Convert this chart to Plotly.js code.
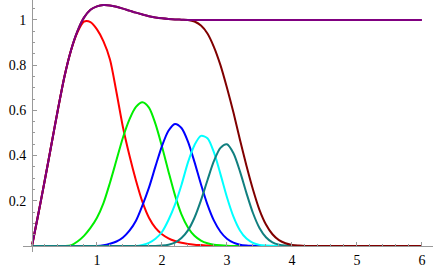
<!DOCTYPE html>
<html>
<head>
<meta charset="utf-8">
<script src="https://cdn.plot.ly/plotly-3.0.1.min.js"></script>
<style>
html,body{margin:0;padding:0;background:#fff;}
#chart{width:437px;height:270px;}
#chart .xtick text, #chart .ytick text { font-family: "Liberation Serif", "Times New Roman", serif !important; }
</style>
</head>
<body>
<div id="chart"></div>
<script>
// shared x samples
var xs = [0,0.1,0.2,0.3,0.4,0.5,0.6,0.7,0.8,0.9,1.0,1.1,1.2,1.3,1.4,1.5,1.6,1.7,1.8,1.9,2.0,
          2.1,2.2,2.3,2.4,2.5,2.6,2.7,2.8,2.9,3.0,3.1,3.2,3.3,3.4,3.5,3.6,3.7,3.8,3.9,4.0,4.1,4.2,5,6];

var red    = [0,0.145,0.295,0.45,0.605,0.75,0.865,0.945,0.992,0.99,0.958,0.905,0.825,0.68,0.525,0.40,0.29,0.195,0.125,0.08,0.052,
              0.034,0.022,0.014,0.009,0.006,0.004,0.002,0.001,0,0,0,0,0,0,0,0,0,0,0,0,0,0,0,0];
var green  = [0,0,0,0,0,0,0.003,0.02,0.045,0.08,0.125,0.19,0.28,0.38,0.48,0.56,0.615,0.636,0.612,0.54,0.44,
              0.33,0.225,0.14,0.082,0.045,0.024,0.012,0.006,0.003,0.001,0,0,0,0,0,0,0,0,0,0,0,0,0,0];
var blue   = [0,0,0,0,0,0,0,0,0,0,0,0.003,0.01,0.02,0.038,0.068,0.112,0.18,0.258,0.352,0.442,
              0.51,0.54,0.522,0.462,0.372,0.273,0.183,0.112,0.063,0.032,0.015,0.006,0.0025,0.001,0,0,0,0,0,0,0,0,0,0];
var cyan   = [0,0,0,0,0,0,0,0,0,0,0,0,0,0,0,0,0,0.005,0.014,0.032,0.062,
              0.115,0.183,0.27,0.37,0.446,0.487,0.477,0.414,0.318,0.216,0.13,0.069,0.033,0.014,0.005,0.002,0.001,0,0,0,0,0,0,0];
var teal   = [0,0,0,0,0,0,0,0,0,0,0,0,0,0,0,0,0,0,0,0,0.002,
              0.006,0.015,0.035,0.069,0.125,0.202,0.291,0.376,0.434,0.45,0.41,0.33,0.234,0.146,0.08,0.039,0.016,0.006,0.002,0.001,0,0,0,0];
var maroon = [0,0.145,0.295,0.45,0.605,0.75,0.865,0.95,1.01,1.045,1.06,1.066,1.064,1.058,1.05,1.041,1.032,1.024,1.016,1.011,1.007,
              1.004,1.002,1.001,1.0,0.993,0.975,0.94,0.88,0.80,0.70,0.59,0.47,0.355,0.25,0.16,0.095,0.052,0.026,0.012,0.005,0.002,0,0,0];
var purple = [0,0.145,0.295,0.45,0.605,0.75,0.865,0.95,1.01,1.045,1.06,1.066,1.064,1.058,1.05,1.041,1.032,1.024,1.016,1.011,1.007,
              1.004,1.002,1.001,1.0,1.0,1.0,1.0,1.0,1.0,1.0,1.0,1.0,1.0,1.0,1.0,1.0,1.0,1.0,1.0,1.0,1.0,1.0,1.0,1.0];

var xTickVals = [1,2,3,4,5,6];
var xTickText = ['1','2','3','4','5','6'];
var yTickVals = [0,0.2,0.4,0.6,0.8,1.0];
var yTickText = ['','0.2','0.4','0.6','0.8','1'];

var series = [
  {y: red,    color: '#ff0000'},
  {y: green,  color: '#00ee00'},
  {y: blue,   color: '#0000ff'},
  {y: cyan,   color: '#00ffff'},
  {y: teal,   color: '#117f7f'},
  {y: maroon, color: '#800000'},
  {y: purple, color: '#800080'}
];

var traces = series.map(function(s){
  return {x: xs, y: s.y, type: 'scatter', mode: 'lines',
          line: {color: s.color, width: 2, shape: 'spline', smoothing: 0.8},
          hoverinfo: 'skip'};
});

var xr = [-0.138, 6.17];
var yr = [-0.0265, 1.088];
var FONT = 'Liberation Serif, serif';

var layout = {
  width: 437, height: 270,
  margin: {l: 23, r: 4, t: 0, b: 18, pad: 0},
  paper_bgcolor: '#ffffff', plot_bgcolor: '#ffffff',
  showlegend: false,
  font: {family: FONT, size: 14, color: '#000'},
  xaxis: {
    range: xr, anchor: 'free', position: (0 - yr[0]) / (yr[1] - yr[0]),
    showline: true, linecolor: '#999999', linewidth: 1,
    showgrid: false, zeroline: false,
    tickmode: 'array', tickvals: xTickVals, ticktext: xTickText,
    ticks: 'inside', ticklen: 4, tickcolor: '#999999', tickwidth: 1,
    ticklabelstandoff: 1,
    minor: {tickmode: 'linear', tick0: 0, dtick: 0.2, ticks: 'inside', ticklen: 2, tickcolor: '#999999', tickwidth: 1, showgrid: false},
    tickfont: {family: FONT, size: 14, color: '#000'},
    automargin: false,
    fixedrange: true
  },
  yaxis: {
    range: yr, anchor: 'free', position: (0 - xr[0]) / (xr[1] - xr[0]),
    showline: true, linecolor: '#999999', linewidth: 1,
    showgrid: false, zeroline: false,
    tickmode: 'array', tickvals: yTickVals, ticktext: yTickText,
    ticks: 'inside', ticklen: 4, tickcolor: '#999999', tickwidth: 1,
    ticklabelstandoff: 3,
    minor: {tickmode: 'linear', tick0: 0, dtick: 0.05, ticks: 'inside', ticklen: 2, tickcolor: '#999999', tickwidth: 1, showgrid: false},
    tickfont: {family: FONT, size: 14, color: '#000'},
    automargin: false,
    fixedrange: true
  }
};

Plotly.newPlot('chart', traces, layout, {staticPlot: true, displayModeBar: false});
</script>
</body>
</html>
